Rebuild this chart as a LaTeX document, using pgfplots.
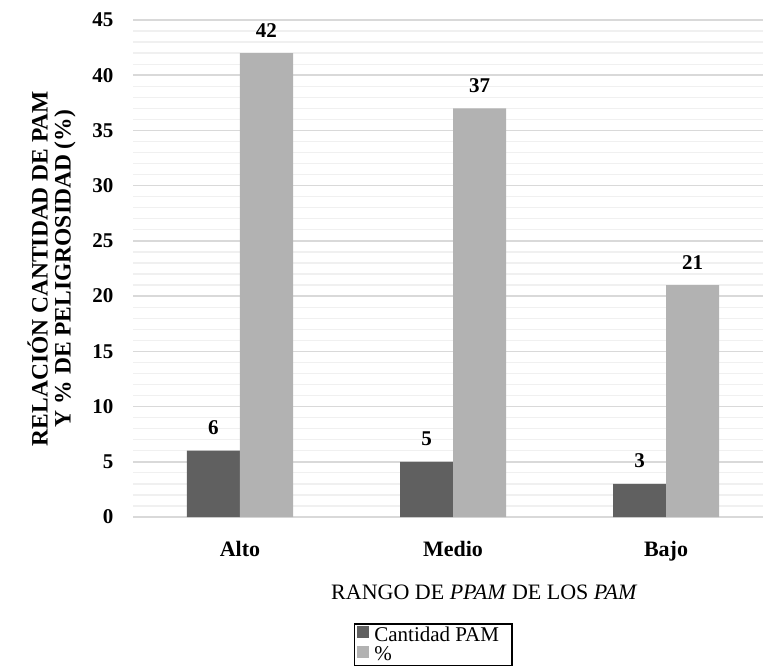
\documentclass[border=0pt]{standalone}
\usepackage{pgfplots}
\pgfplotsset{compat=1.18}
\usepackage{fontspec}
\setmainfont{Liberation Serif}
\definecolor{darkbar}{HTML}{606060}
\definecolor{lightbar}{HTML}{B2B2B2}
\definecolor{majgrid}{HTML}{D9D9D9}
\definecolor{mingrid}{HTML}{F0F0F0}
\begin{document}
\begin{tikzpicture}[x=1pt,y=1pt]
\useasboundingbox (-133.5,-152) rectangle (629.5,517);
\begin{axis}[
  at={(0,0)}, anchor=south west,
  scale only axis, width=639pt, height=497pt,
  xmin=-0.5, xmax=2.5, ymin=0, ymax=45,
  ybar=0pt, bar width=53pt,
  xtick={0,1,2}, xticklabels={Alto,Medio,Bajo},
  ytick={0,5,...,45},
  minor y tick num=4,
  ymajorgrids, yminorgrids,
  major grid style={majgrid, line width=1.6pt},
  minor grid style={mingrid, line width=1.3pt},
  axis x line*=bottom, axis y line*=left,
  y axis line style={draw=none},
  x axis line style={majgrid, line width=1.6pt, -},
  major tick length=0pt, minor tick length=0pt,
  tick style={draw=none},
  /pgf/number format/assume math mode=true,
  yticklabel style={font=\fontsize{21}{22}\selectfont\bfseries, anchor=east, inner sep=0pt, xshift=-20pt},
  xticklabel style={font=\fontsize{22}{24}\selectfont\bfseries, anchor=base, inner sep=0pt, yshift=-39pt},
  ylabel={RELACIÓN CANTIDAD DE PAM\\Y \% DE PELIGROSIDAD (\%)},
  ylabel style={font=\fontsize{23.5}{23}\selectfont\bfseries, align=center, at={(axis description cs:0,0.5)}, anchor=center, yshift=82pt},
  xlabel={RANGO DE \textit{PPAM} DE LOS \textit{PAM}},
  xlabel style={font=\fontsize{22}{24}\selectfont, at={(axis description cs:0.549,0)}, anchor=center, yshift=-75pt},
  legend style={at={(axis description cs:0.469,0)}, anchor=north, yshift=-106pt, draw=black, line width=1.5pt, font=\fontsize{21}{21}\selectfont, inner xsep=3pt, inner ysep=1pt, row sep=0pt, cells={anchor=west}},
  legend image code/.code={\draw[#1, draw=none] (0pt,-3pt) rectangle (12pt,9pt); \path (15pt,0pt);},
  nodes near coords,
  every node near coord/.append style={font=\fontsize{21}{22}\selectfont\bfseries, black, anchor=base, inner sep=0pt, yshift=16pt},
  enlarge x limits=false,
  clip=false,
]
\addplot[fill=darkbar, draw=none] coordinates {(0,6) (1,5) (2,3)};
\addplot[fill=lightbar, draw=none] coordinates {(0,42) (1,37) (2,21)};
\legend{Cantidad PAM\hspace*{8pt}, \%}
\end{axis}
\end{tikzpicture}
\end{document}
